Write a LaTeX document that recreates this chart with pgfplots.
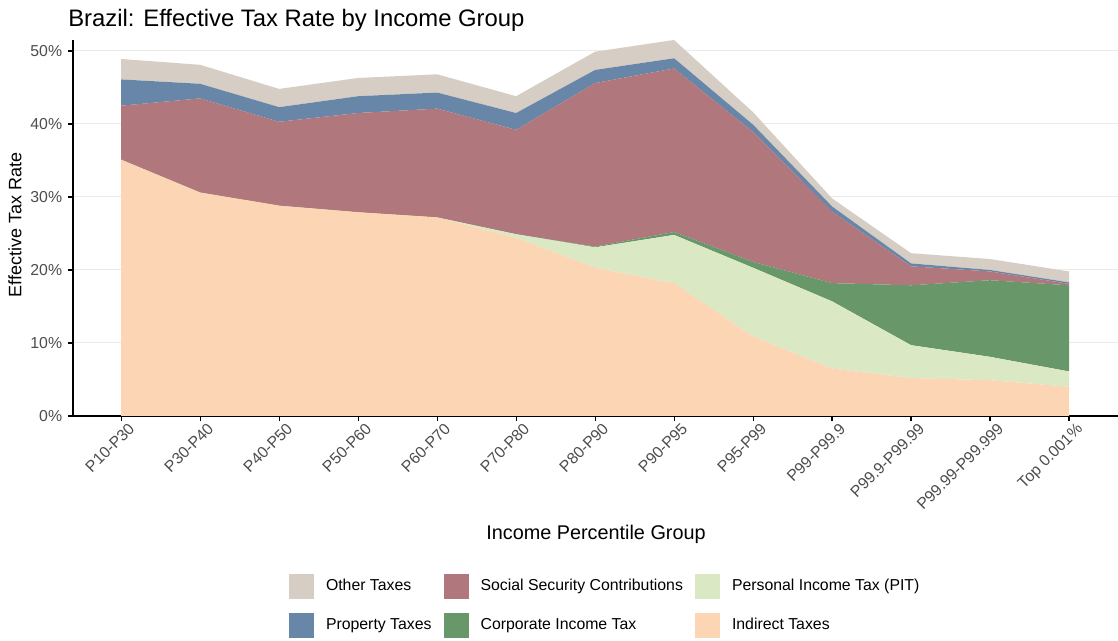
\documentclass[border=0pt]{standalone}
\usepackage{fontspec}
\setmainfont{Liberation Sans}
\usepackage{pgfplots}
\pgfplotsset{compat=1.18}
\usepackage{pgfplotstable}

\definecolor{cInd}{RGB}{252,213,180}
\definecolor{cPIT}{RGB}{218,233,196}
\definecolor{cCIT}{RGB}{104,152,106}
\definecolor{cSS}{RGB}{176,119,125}
\definecolor{cProp}{RGB}{104,134,167}
\definecolor{cOth}{RGB}{214,206,196}
\definecolor{ticktext}{RGB}{77,77,77}

\pgfplotstableread{
x ind pit cit ss prop oth
0  35.1 0   0    7.4  3.6 2.8
1  30.6 0   0    12.9 2.0 2.6
2  28.8 0   0    11.5 2.0 2.5
3  27.9 0   0    13.6 2.3 2.5
4  27.2 0   0    14.9 2.2 2.5
5  24.4 0.5 0    14.3 2.3 2.3
6  20.3 2.8 0.1  22.4 1.8 2.5
7  18.2 6.6 0.4  22.4 1.4 2.5
8  10.9 9.4 0.8  17.8 1.0 1.7
9  6.5  9.2 2.5  9.8  0.7 1.1
10 5.2  4.5 8.2  2.6  0.4 1.4
11 4.9  3.2 10.5 1.2  0.2 1.5
12 4.0  2.1 11.8 0.2  0.2 1.5
}\datatable

\begin{document}
\begin{tikzpicture}[x=1pt,y=1pt]
\useasboundingbox (-43.8,-135) rectangle (627,249.6);
\begin{axis}[
  at={(0,0)}, anchor=south west,
  scale only axis, width=627pt, height=225.6pt,
  xmin=-0.61, xmax=12.62, ymin=0, ymax=51.5,
  stack plots=y,
  axis x line*=bottom, axis y line*=left,
  axis line style={-, black, line width=0.8pt},
  tick align=outside, major tick length=3pt,
  tick style={black, line width=0.7pt},
  xtick={0,...,12},
  xticklabels={P10-P30,P30-P40,P40-P50,P50-P60,P60-P70,P70-P80,P80-P90,P90-P95,P95-P99,P99-P99.9,P99.9-P99.99,P99.99-P99.999,Top 0.001\%},
  xticklabel style={rotate=45, anchor=north east, inner sep=1pt, xshift=3.5pt, yshift=-2pt, font=\fontsize{9.5}{11}\selectfont, text=ticktext},
  ytick={0,10,20,30,40,50},
  yticklabels={0\%,10\%,20\%,30\%,40\%,50\%},
  yticklabel style={font=\fontsize{9.5}{11}\selectfont, text=ticktext},
  ymajorgrids, grid style={color=black!8, line width=0.6pt},
  legend columns=3,
  legend cell align=left,
  legend style={at={(0.2067,-0.4202)}, anchor=north west, draw=none, fill=none,
    inner sep=0pt, outer sep=0pt,
    font=\fontsize{9.5}{11}\selectfont,
    nodes={inner sep=0pt},
    /tikz/every odd column/.append style={column sep=7.2pt},
    /tikz/every even column/.append style={column sep=7.2pt},
    row sep=8.1pt},
  legend image code/.code={\fill[#1] (0pt,-7.5pt) rectangle (15pt,7.5pt);},
  legend entries={Other Taxes, Social Security Contributions, Personal Income Tax (PIT), Property Taxes, Corporate Income Tax, Indirect Taxes},
]
\addlegendimage{fill=cOth, draw=none}
\addlegendimage{fill=cSS, draw=none}
\addlegendimage{fill=cPIT, draw=none}
\addlegendimage{fill=cProp, draw=none}
\addlegendimage{fill=cCIT, draw=none}
\addlegendimage{fill=cInd, draw=none}

\addplot[draw=none, fill=cInd] table[x=x, y=ind]{\datatable} \closedcycle;
\addplot[draw=none, fill=cPIT] table[x=x, y=pit]{\datatable} \closedcycle;
\addplot[draw=none, fill=cCIT] table[x=x, y=cit]{\datatable} \closedcycle;
\addplot[draw=none, fill=cSS] table[x=x, y=ss]{\datatable} \closedcycle;
\addplot[draw=none, fill=cProp] table[x=x, y=prop]{\datatable} \closedcycle;
\addplot[draw=none, fill=cOth] table[x=x, y=oth]{\datatable} \closedcycle;
\end{axis}
\node[anchor=base west, inner sep=0pt, font=\fontsize{14.3}{17}\selectfont] at (-3,233.4) {Brazil: Effective Tax Rate by Income Group};
\node[rotate=90, font=\fontsize{10.8}{13}\selectfont] at (-34.8,114.6) {Effective Tax Rate};
\node[font=\fontsize{11.9}{14}\selectfont] at (313.8,-70.8) {Income Percentile Group};
\end{tikzpicture}
\end{document}
